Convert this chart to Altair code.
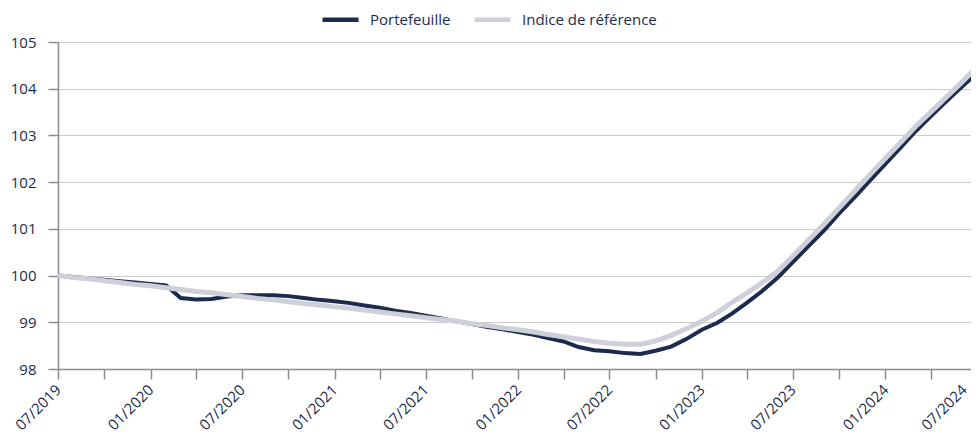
import altair as alt
import pandas as pd

# Monthly dates 07/2019 .. 07/2024
dates = pd.date_range("2019-07-01", "2024-07-01", freq="MS").strftime("%Y-%m-%d").tolist()

portefeuille = [
    100.00, 99.97, 99.94, 99.91, 99.88, 99.85, 99.82, 99.79, 99.52, 99.49,
    99.50, 99.55, 99.58, 99.58, 99.58, 99.56, 99.52, 99.48, 99.45, 99.41,
    99.36, 99.31, 99.25, 99.20, 99.14, 99.08, 99.02, 98.96, 98.90, 98.85,
    98.79, 98.73, 98.66, 98.59, 98.47, 98.40, 98.38, 98.34, 98.32, 98.39,
    98.48, 98.64, 98.84, 98.99, 99.18, 99.42, 99.67, 99.96, 100.29, 100.63,
    100.97, 101.33, 101.68, 102.03, 102.39, 102.75, 103.09, 103.42, 103.73, 104.04,
    104.33,
]

indice = [
    100.00, 99.96, 99.93, 99.89, 99.85, 99.81, 99.78, 99.74, 99.70, 99.66,
    99.63, 99.59, 99.55, 99.51, 99.48, 99.44, 99.40, 99.37, 99.33, 99.30,
    99.26, 99.22, 99.18, 99.14, 99.10, 99.06, 99.02, 98.97, 98.93, 98.88,
    98.84, 98.79, 98.74, 98.69, 98.64, 98.59, 98.55, 98.53, 98.53, 98.60,
    98.72, 98.86, 99.02, 99.21, 99.42, 99.63, 99.85, 100.09, 100.42, 100.76,
    101.10, 101.45, 101.81, 102.16, 102.51, 102.86, 103.19, 103.51, 103.82, 104.14,
    104.47,
]

series_names = ["Portefeuille", "Indice de référence"]
series_colors = ["#1c2b4d", "#cdd0d8"]
y_ticks = [98, 99, 100, 101, 102, 103, 104, 105]

df = pd.concat([
    pd.DataFrame({"date": dates, "valeur": portefeuille, "serie": series_names[0]}),
    pd.DataFrame({"date": dates, "valeur": indice, "serie": series_names[1]}),
])

tick_dates = pd.date_range("2019-07-01", "2024-07-01", freq="3MS")
tick_values = [alt.DateTime(year=d.year, month=d.month, date=1, utc=True) for d in tick_dates]

FONT = "Open Sans"
TXT = "#1c2b4d"

x = alt.X(
    "date:T",
    scale=alt.Scale(type="utc",
                    domain=[alt.DateTime(year=2019, month=7, date=1, utc=True),
                            alt.DateTime(year=2024, month=7, date=1, utc=True)],
                    range=[0, 919]),
    axis=alt.Axis(
        title=None,
        values=tick_values,
        labelExpr="utcmonth(datum.value) % 6 == 0 ? utcFormat(datum.value, '%m/%Y') : ''",
        labelAngle=-45,
        labelAlign="right",
        labelBaseline="middle",
        labelPadding=8,
        labelOffset={"condition": {"test": "datum.value >= 1719000000000", "value": -13}, "value": 0},
        tickSize=10,
        grid=False,
        labelOverlap=False,
    ),
)
y = alt.Y(
    "valeur:Q",
    scale=alt.Scale(domain=[98, 105], nice=False, zero=False),
    axis=alt.Axis(title=None, values=y_ticks, tickSize=10, labelPadding=12, grid=True),
)
color = alt.Color(
    "serie:N",
    scale=alt.Scale(domain=series_names, range=series_colors),
    legend=alt.Legend(
        title=None,
        orient="none",
        legendX=262,
        legendY=-43,
        direction="horizontal",
        symbolType="stroke",
        symbolSize=1300,
        symbolStrokeWidth=4.5,
        labelFontSize=15,
        labelFont=FONT,
        labelColor=TXT,
        labelOffset=9,
        columnPadding=14,
    ),
    sort=series_names,
)

base = alt.Chart(df).encode(x=x, y=y, color=color)
line_p = base.transform_filter(alt.datum.serie == series_names[0]).mark_line(strokeWidth=4)
line_i = base.transform_filter(alt.datum.serie == series_names[1]).mark_line(strokeWidth=5)

chart = (
    alt.layer(line_p, line_i)
    .properties(
        width=913,
        height=327,
        autosize=alt.AutoSizeParams(type="none"),
        padding={"left": 50, "top": 34, "right": 0, "bottom": 66},
    )
    .configure_view(stroke=None)
    .configure_axis(
        labelFont=FONT,
        labelFontSize=15,
        labelColor=TXT,
        domainColor="#8c8c8c",
        domainWidth=1.5,
        tickColor="#8c8c8c",
        tickWidth=1.5,
        gridColor="#cccccc",
        gridWidth=1.2,
    )
)

chart.save("out.html", embed_options={"renderer": "svg", "actions": False})
